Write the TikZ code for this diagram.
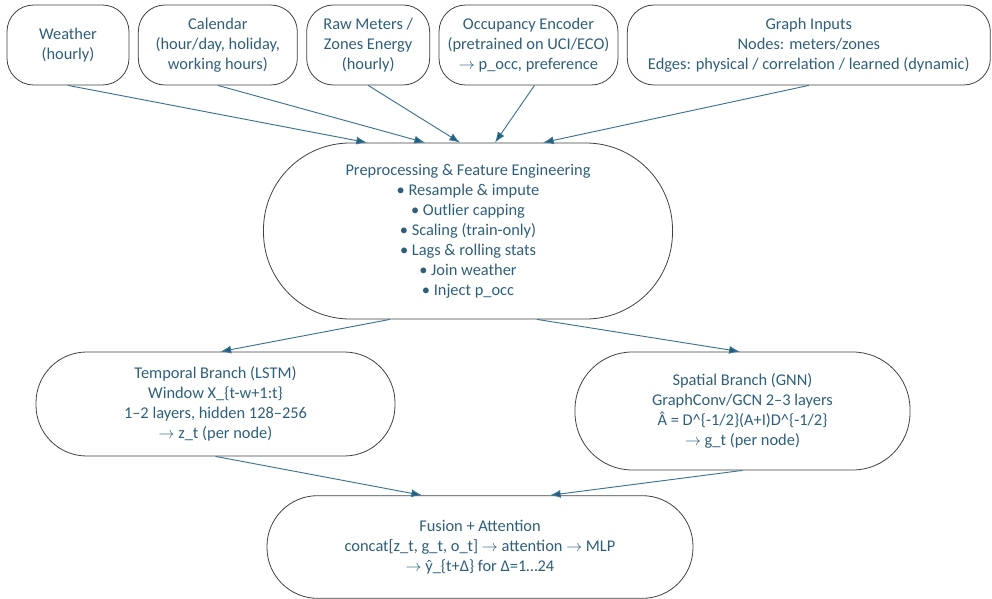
\documentclass[tikz,border=0pt]{standalone}
\usepackage{fontspec}
\setmainfont{Carlito}
\usetikzlibrary{chains, arrows.meta}

\definecolor{labelblue}{HTML}{2E5F7A}
\definecolor{flowblue}{HTML}{3A7391}
\definecolor{headblue}{HTML}{1F5F80}
\definecolor{boxline}{HTML}{404040}

\newcommand{\arr}{$\rightarrow$}

\begin{document}
\begin{tikzpicture}[x=0.75pt, y=-0.75pt]
\tikzset{
  arrow/.style={
    >={Latex[length=8pt, width=6pt, fill=headblue]}
  },
  line/.style={
    draw=flowblue,
    ->,
    line width=0.7pt,
  },
  box/.style={
    draw=boxline,
    line width=0.6pt,
    align=center,
    text=labelblue,
    font=\fontsize{12.3}{15}\selectfont,
    inner sep=0pt
  },
  inbox/.style={
    box,
    minimum height=60pt,
    rounded corners=20pt
  },
  pill/.style={
    box,
    rounded corners=#1
  }
}

\useasboundingbox (0,0) rectangle (992,599);

% Inputs
\begin{scope}[
  start chain=1 going right, node distance=6.4pt
  ]
\node (weather) [on chain=1, inbox, minimum width=91.5pt] at (68,45) {Weather\\(hourly)};
\node (calendar) [on chain=1, inbox, minimum width=119.25pt] {Calendar\\(hour/day, holiday,\\working hours)};
\node (meters) [on chain=1, inbox, minimum width=92.25pt] {Raw Meters /\\Zones Energy\\(hourly)};
\node (occenc) [on chain=1, inbox, minimum width=134.25pt] {Occupancy Encoder\\(pretrained on UCI/ECO)\\\arr{} p\_occ, preference};
\node (graphin) [on chain=1, inbox, minimum width=272.25pt] {Graph Inputs\\Nodes: meters/zones\\Edges: physical / correlation / learned (dynamic)};
\end{scope}

% Preprocessing
\node (prep) [pill=65pt, minimum width=306.75pt, minimum height=132pt] at (468,231)
  {Preprocessing \& Feature Engineering\\
   • Resample \& impute\\
   • Outlier capping\\
   • Scaling (train-only)\\
   • Lags \& rolling stats\\
   • Join weather\\
   • Inject p\_occ};

% Branches
\node (temporal) [pill=38pt, minimum width=269.25pt, minimum height=78pt] at (215.5,404)
  {Temporal Branch (LSTM)\\Window X\_\{t-w+1:t\}\\1–2 layers, hidden 128–256\\\arr{} z\_t (per node)};
\node (spatial) [pill=43pt, minimum width=251.25pt, minimum height=88.5pt] at (742.5,411)
  {Spatial Branch (GNN)\\GraphConv/GCN 2–3 layers\\Â = D\textasciicircum\{-1/2\}(A+I)D\textasciicircum\{-1/2\}\\\arr{} g\_t (per node)};

% Fusion
\node (fusion) [pill=38pt, minimum width=319.5pt, minimum height=77pt] at (480,547)
  {Fusion + Attention\\concat[z\_t, g\_t, o\_t] \arr{} attention \arr{} MLP\\\arr{} ŷ\_\{t+Δ\} for Δ=1…24};

\draw[line, arrow] (weather.south) to ([xshift=-75.75pt]prep.north);
\draw[line, arrow] (calendar.south) to ([xshift=-32.25pt]prep.north);
\draw[line, arrow] (meters.south) to ([xshift=-6pt]prep.north);
\draw[line, arrow] ([xshift=4.5pt]occenc.south) to ([xshift=20.25pt]prep.north);
\draw[line, arrow] (graphin.south) to ([xshift=56.25pt]prep.north);

\draw[line, arrow] ([xshift=-58.5pt]prep.south) to ([xshift=3.75pt]temporal.north);
\draw[line, arrow] ([xshift=51.75pt]prep.south) to ([xshift=-2pt]spatial.north);

\draw[line, arrow] (temporal.south) to ([xshift=-43.5pt]fusion.north);
\draw[line, arrow] (spatial.south) to ([xshift=52.5pt]fusion.north);

\end{tikzpicture}
\end{document}
